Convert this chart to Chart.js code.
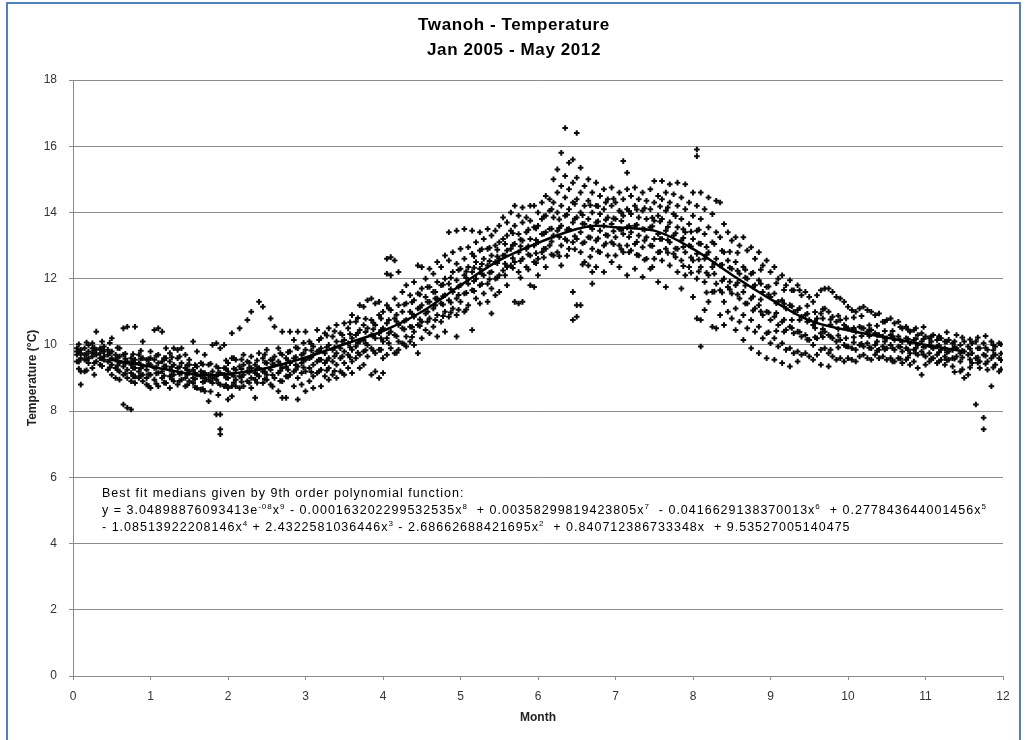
<!DOCTYPE html>
<html>
<head>
<meta charset="utf-8">
<script src="https://cdn.jsdelivr.net/npm/chart.js@4.4.0/dist/chart.umd.min.js"></script>
<style>
  html, body { margin: 0; padding: 0; background: #fff; }
  #wrap { width: 1027px; height: 740px; }
</style>
</head>
<body>
<div id="wrap"><canvas id="chart" width="1027" height="740"></canvas></div>
<script>
// month position of each column of readings
const months = [
  0.05, 0.10, 0.15, 0.20, 0.25, 0.30, 0.35, 0.40, 0.45, 0.50, 0.55, 0.60, 0.65, 0.70, 0.75, 0.80, 0.85, 0.90, 0.95, 1.00,
  1.05, 1.10, 1.15, 1.20, 1.25, 1.30, 1.35, 1.40, 1.45, 1.50, 1.55, 1.60, 1.65, 1.70, 1.75, 1.80, 1.85, 1.90, 1.95, 2.00,
  2.05, 2.10, 2.15, 2.20, 2.25, 2.30, 2.35, 2.40, 2.45, 2.50, 2.55, 2.60, 2.65, 2.70, 2.75, 2.80, 2.85, 2.90, 2.95, 3.00,
  3.05, 3.10, 3.15, 3.20, 3.25, 3.30, 3.35, 3.40, 3.45, 3.50, 3.55, 3.60, 3.65, 3.70, 3.75, 3.80, 3.85, 3.90, 3.95, 4.00,
  4.05, 4.10, 4.15, 4.20, 4.25, 4.30, 4.35, 4.40, 4.45, 4.50, 4.55, 4.60, 4.65, 4.70, 4.75, 4.80, 4.85, 4.90, 4.95, 5.00,
  5.05, 5.10, 5.15, 5.20, 5.25, 5.30, 5.35, 5.40, 5.45, 5.50, 5.55, 5.60, 5.65, 5.70, 5.75, 5.80, 5.85, 5.90, 5.95, 6.00,
  6.05, 6.10, 6.15, 6.20, 6.25, 6.30, 6.35, 6.40, 6.45, 6.50, 6.55, 6.60, 6.65, 6.70, 6.75, 6.80, 6.85, 6.90, 6.95, 7.00,
  7.05, 7.10, 7.15, 7.20, 7.25, 7.30, 7.35, 7.40, 7.45, 7.50, 7.55, 7.60, 7.65, 7.70, 7.75, 7.80, 7.85, 7.90, 7.95, 8.00,
  8.05, 8.10, 8.15, 8.20, 8.25, 8.30, 8.35, 8.40, 8.45, 8.50, 8.55, 8.60, 8.65, 8.70, 8.75, 8.80, 8.85, 8.90, 8.95, 9.00,
  9.05, 9.10, 9.15, 9.20, 9.25, 9.30, 9.35, 9.40, 9.45, 9.50, 9.55, 9.60, 9.65, 9.70, 9.75, 9.80, 9.85, 9.90, 9.95, 10.00,
  10.05, 10.10, 10.15, 10.20, 10.25, 10.30, 10.35, 10.40, 10.45, 10.50, 10.55, 10.60, 10.65, 10.70, 10.75, 10.80, 10.85, 10.90, 10.95, 11.00,
  11.05, 11.10, 11.15, 11.20, 11.25, 11.30, 11.35, 11.40, 11.45, 11.50, 11.55, 11.60, 11.65, 11.70, 11.75, 11.80, 11.85, 11.90, 11.95
];

// temperature readings (°C) in each month column
const temps = [
  // 0.05 - 1.00
  "9.7 9.9 9.5 9.8", "9.6 9.85 9.2 8.8 9.75", "9.9 9.55 9.2 9.7", "9.8 10.0 9.6 9.45", "9.65 9.9 9.3 9.75 10.05",
  "10.4 9.7 9.5 9.85", "9.6 9.9 9.75 9.4", "9.8 9.55 9.95 9.65", "9.5 9.85 9.7 9.25", "10.2 9.6 9.4 9.1 9.8",
  "9.3 9.7 9.0 9.55", "9.9 9.2 9.45 8.95 9.65", "10.5 9.35 9.1 9.7 8.2", "10.55 9.5 9.0 8.1 9.25", "9.6 9.15 8.05 8.9 9.4",
  "10.55 9.3 9.05 9.55 8.85", "9.45 9.2 9.0 9.7", "10.1 9.35 8.9 9.6 9.1", "9.55 9.25 9.0 8.8", "9.8 9.4 9.1 8.7 9.6",
  // 1.05 - 2.00
  "10.45 9.3 8.95 9.55", "10.5 9.45 9.15 8.75 9.7", "10.4 9.2 9.0 9.5", "9.9 9.35 8.85 9.6", "9.25 9.05 8.7 9.5 9.75",
  "9.9 9.4 9.1 8.9", "9.85 9.3 9.6 8.8", "9.9 9.15 9.45 8.95", "9.7 9.3 9.0 8.75", "9.55 9.2 8.9 9.4",
  "10.1 9.25 9.0 8.85", "9.8 9.1 9.35 8.7", "9.45 9.05 8.65 9.2", "9.7 9.15 8.9 9.0 8.6", "9.4 9.1 8.3 8.95",
  "10.0 9.2 9.0 8.85", "10.05 9.35 9.05 8.95 7.9", "9.9 9.15 8.8 7.45 7.3 7.9", "10.0 9.3 9.1 8.75", "9.45 9.2 8.7 8.35 9.0",
  // 2.05 - 3.00
  "10.35 9.6 9.1 8.75 8.45", "9.55 9.25 8.75 8.95", "10.5 9.35 9.05 8.7", "9.7 9.4 9.1 8.75", "10.75 9.5 9.2 8.9",
  "11.0 9.65 9.3 9.0 8.7", "9.4 9.15 8.95 8.4", "11.3 9.75 9.3 9.05", "11.15 9.6 9.2 8.85", "9.85 9.45 9.1 8.95",
  "10.8 9.55 9.25 8.8", "10.55 9.4 9.65 9.0", "9.9 9.5 9.15 8.6", "10.4 9.7 9.3 8.9 8.4", "9.6 9.35 9.05 8.4",
  "10.4 9.8 9.45 9.1", "10.15 9.6 9.2 8.75", "10.4 9.9 9.35 9.0 8.35", "9.7 9.45 9.15 8.8", "10.4 9.85 9.55 9.2 8.6",
  // 3.05 - 4.00
  "10.1 9.6 9.3 8.9", "9.95 9.7 9.4 9.05 8.7", "10.45 9.8 9.5 9.15", "10.2 9.9 9.55 9.25 8.75", "10.35 9.75 9.45 9.05",
  "10.5 10.0 9.6 9.3 8.95", "10.25 9.85 9.5 9.1", "10.6 10.1 9.75 9.4 9.0", "10.35 9.9 9.6 9.2", "10.65 10.15 9.8 9.45 9.1",
  "10.5 10.05 9.7 9.3", "10.9 10.2 9.85 9.5 9.15", "10.7 10.3 9.95 9.6", "11.2 10.45 10.1 9.7 9.3", "11.15 10.6 10.15 9.8 9.4",
  "11.35 10.5 10.0 9.65", "11.4 10.75 10.3 9.9 9.1", "11.25 10.6 10.2 9.75 9.2", "11.3 10.9 10.35 9.85 9.0", "11.0 10.5 10.1 9.6 9.15",
  // 4.05 - 5.00
  "12.6 12.15 11.2 10.65 10.2 9.7", "12.65 12.1 11.05 10.4 9.9", "12.55 11.4 10.8 10.3 9.75", "12.2 11.2 10.6 10.1 9.85", "11.6 11.0 10.5 10.05",
  "11.8 11.25 10.75 10.25 9.95", "11.5 11.0 10.55 10.1", "11.9 11.35 10.85 10.4 10.0", "12.4 11.55 11.1 10.6 9.75", "12.35 11.7 11.2 10.7 10.2",
  "12.0 11.45 10.95 10.45", "12.3 11.75 11.3 10.8 10.35", "12.15 11.6 11.1 10.55", "12.5 11.9 11.4 10.9 10.25", "12.35 11.8 11.25 10.7",
  "12.7 12.0 11.5 11.0 10.4", "13.4 12.55 11.85 11.35 10.85", "12.8 12.2 11.6 11.1", "13.45 12.45 11.95 11.4 10.9 10.25", "12.9 12.3 11.8 11.3",
  // 5.05 - 6.00
  "13.5 12.6 12.1 11.55 11.0", "12.95 12.35 11.85 11.2", "13.45 12.75 12.2 11.65 10.45", "13.1 12.5 12.0 11.4", "13.4 12.85 12.3 11.8 11.25",
  "13.2 12.6 12.1 11.55", "13.5 12.9 12.4 11.85 11.3", "13.3 12.7 12.2 11.7 10.95", "13.45 13.0 12.5 12.0 11.5", "13.6 13.1 12.6 12.1 11.6",
  "13.85 13.2 12.7 12.25", "13.7 13.3 12.85 12.35 11.8", "14.0 13.45 12.9 12.4", "14.2 13.6 13.05 12.5 11.3", "13.9 13.35 12.8 12.2 11.25",
  "14.15 13.7 13.15 12.6 11.3", "13.85 13.4 12.9 12.35", "14.2 13.75 13.2 12.7 11.8", "14.2 13.55 13.0 12.5 11.75", "14.0 13.6 13.1 12.6 12.1",
  // 6.05 - 7.00
  "14.3 13.8 13.35 12.8", "14.5 13.9 13.4 12.9 12.35", "14.4 14.05 13.5 13.0", "15.0 14.3 13.85 13.3 12.7", "15.3 14.6 14.0 13.45 12.8",
  "14.8 15.8 14.2 13.6 13.0 12.4", "16.55 15.1 14.45 13.9 13.2", "15.5 14.7 14.1 13.5 12.9", "15.6 14.9 14.3 13.7 13.1 10.75 11.6", "16.4 15.05 14.4 13.85 13.2 11.2 10.85",
  "15.35 14.6 14.0 13.4 12.8 11.2", "14.8 14.2 13.65 13.1 12.5", "15.0 14.35 13.8 13.25 12.4", "14.6 14.0 13.5 12.9 11.85 12.2", "14.9 14.2 13.7 13.15 12.35",
  "14.5 13.95 13.45 12.8", "14.7 14.1 13.6 13.0 12.2", "14.4 13.85 13.3 12.7", "14.75 14.2 13.65 13.1 12.5", "14.3 13.8 13.25 12.7",
  // 7.05 - 8.00
  "14.6 14.05 13.5 13.0 12.35", "15.55 14.4 13.9 13.35 12.8", "15.2 14.7 14.1 13.55 13.0 12.1", "14.5 13.95 13.4 12.85", "14.75 14.2 13.6 13.05 12.3",
  "14.4 13.85 13.3 12.7", "14.6 14.05 13.5 12.95 12.05", "14.35 13.8 13.25 12.6", "14.7 14.1 13.55 13.0 12.3", "14.95 14.3 13.75 13.2 12.6",
  "14.5 13.9 13.35 12.8 11.9", "14.95 14.4 13.8 13.2 12.55", "14.6 14.05 13.45 12.9 11.75", "14.85 14.3 13.7 13.1 12.4", "14.55 13.95 13.3 12.75",
  "14.9 14.2 13.55 12.9 12.2", "14.45 13.8 13.15 12.55 11.7", "14.85 14.1 13.4 12.8 12.1", "14.3 13.65 13.0 12.35", "14.6 13.9 13.2 12.55 11.45",
  // 8.05 - 9.00
  "15.9 15.7 14.2 13.45 12.75 12.0 10.8", "14.6 13.8 13.05 12.35 10.75 9.95", "14.1 13.35 12.6 11.9 11.05", "14.45 13.55 12.8 12.1 11.3", "13.95 13.1 12.35 11.6 10.55",
  "14.35 13.4 12.6 11.85 10.5", "14.3 13.25 12.4 11.65 10.9", "13.65 12.8 12.0 11.3 10.6", "13.4 12.55 11.75 11.0", "13.15 12.3 11.55 10.8",
  "13.25 12.5 11.8 11.1 10.45", "13.0 12.15 11.4 10.7", "13.25 12.35 11.6 10.9 10.15", "12.85 12.0 11.25 10.5", "12.95 12.15 11.4 10.75 9.9",
  "12.6 11.8 11.1 10.4", "12.8 11.95 11.2 10.55 9.75", "12.4 11.6 10.9 10.2", "12.55 11.75 11.0 10.35 9.6", "12.2 11.45 10.75 10.05",
  // 9.05 - 10.00
  "12.35 11.55 10.85 10.2 9.55", "12.0 11.3 10.6 9.95", "12.1 11.35 10.7 10.05 9.45", "11.8 11.1 10.45 9.85", "11.95 11.2 10.55 9.9 9.35",
  "11.65 11.0 10.35 9.75", "11.8 11.05 10.4 9.8 9.5", "11.5 10.85 10.25 9.7", "11.6 10.9 10.3 9.75", "11.45 10.75 10.15 9.65",
  "11.3 10.6 10.0 9.55", "11.5 10.8 10.2 9.7", "11.65 10.95 10.35 9.85 9.4", "11.7 11.1 10.4 9.9", "11.7 11.0 10.3 9.75 9.35",
  "11.6 10.85 10.2 9.65", "11.45 10.7 10.1 9.55", "11.4 10.75 10.15 9.6", "11.3 10.6 10.0 9.5", "11.15 10.5 9.95 9.6",
  // 10.05 - 11.00
  "11.05 10.45 9.9 9.55", "11.0 10.4 9.85 9.5", "11.1 10.55 10.0 9.65", "11.15 10.5 9.95 9.7", "11.05 10.4 10.05 9.6",
  "11.0 10.45 9.9 9.55", "10.9 10.35 10.0 9.7", "10.95 10.3 9.85 9.6", "10.7 10.25 9.95 9.65", "10.75 10.2 9.9 9.55",
  "10.8 10.3 10.0 9.6", "10.65 10.15 9.85 9.5", "10.7 10.25 9.95 9.6", "10.5 10.1 9.8 9.45", "10.55 10.2 9.9 9.55",
  "10.4 10.05 9.75 9.4", "10.45 10.15 9.85 9.5", "10.3 10.0 9.7 9.3", "10.35 10.1 9.8 9.1", "10.25 9.95 9.65 9.4",
  // 11.05 - 11.95
  "10.2 10.0 9.75 9.5", "10.3 9.9 9.6", "10.15 9.95 9.7 9.45", "10.2 9.85 9.55", "10.1 9.9 9.65 9.4",
  "10.15 9.8 9.55", "10.05 9.85 9.6 9.35", "10.3 9.9 9.65", "10.0 9.75 9.5 9.2", "10.1 9.8 9.0",
  "9.95 9.7 9.1", "10.05 9.75 9.45", "10.1 9.6 8.2", "9.9 9.5 9.3", "10.05 9.7 7.45 7.8",
  "9.85 9.5 9.25", "10.1 9.6 8.75", "9.95 9.4 9.7", "10.05 9.6 9.2"
];

// second set of columns, in between the first, covering the dense core
const monthsB = [
  0.075, 0.175, 0.275, 0.375, 0.475, 0.575, 0.675, 0.775, 0.875, 0.975,
  1.075, 1.175, 1.275, 1.375, 1.475, 1.575, 1.675, 1.775, 1.875, 1.975,
  2.075, 2.175, 2.275, 2.375, 2.475, 2.575, 2.675, 2.775, 2.875, 2.975,
  3.075, 3.175, 3.275, 3.375, 3.475, 3.575, 3.675, 3.775, 3.875, 3.975,
  4.075, 4.175, 4.275, 4.375, 4.475, 4.575, 4.675, 4.775, 4.875, 4.975,
  5.075, 5.175, 5.275, 5.375, 5.475, 5.575, 5.675, 5.775, 5.875, 5.975,
  6.075, 6.175, 6.275, 6.375, 6.475, 6.575, 6.675, 6.775, 6.875, 6.975,
  7.075, 7.175, 7.275, 7.375, 7.475, 7.575, 7.675, 7.775, 7.875, 7.975,
  8.075, 8.175, 8.275, 8.375, 8.475, 8.575, 8.675, 8.775, 8.875, 8.975,
  9.075, 9.175, 9.275, 9.375, 9.475, 9.575, 9.675, 9.775, 9.875, 9.975,
  10.075, 10.175, 10.275, 10.375, 10.475, 10.575, 10.675, 10.775, 10.875, 10.975,
  11.075, 11.175, 11.275, 11.375, 11.475, 11.575, 11.675, 11.775, 11.875, 11.975
];
const tempsB = [
  "9.77 9.49 10.02 9.28", "9.54 10.07 9.72 9.23", "9.45 9.77 9.91 9.1", "9.58 9.86 9.36 10.1", "9.74 9.32 10.06 9.53",
  "9.91 9.38 9.62 9.24", "9.73 9.44 9.13 9.58", "9.48 9.72 9.3 9.05", "9.3 9.58 9.08 9.82", "9.11 9.43 9.57 8.76",
  "9.14 9.67 9.32 8.83", "9.35 9.07 9.6 8.86", "9.63 9.1 9.34 8.96", "9.33 8.91 9.65 9.12", "9.39 9.1 8.79 9.24",
  "9.15 9.39 8.97 8.72", "9.16 8.88 9.41 8.67", "8.9 9.43 9.08 8.59", "8.84 9.16 9.3 8.49", "9.01 9.29 8.79 9.53",
  "9.28 8.86 9.6 9.07", "9.56 9.03 9.27 8.89", "9.46 9.17 8.86 9.31", "9.29 9.53 9.11 8.86", "9.19 9.47 8.97 9.71",
  "9.09 9.41 9.55 8.74", "9.22 9.75 9.4 8.91", "9.53 9.25 9.78 9.04", "9.92 9.39 9.63 9.25", "9.74 9.32 10.06 9.53",
  "10.03 9.63 9.18 9.83", "9.8 10.15 9.55 9.2", "9.93 9.53 10.28 9.23", "9.66 10.41 9.91 9.21", "9.65 10.1 10.3 9.15",
  "9.93 10.33 9.63 10.68", "10.36 9.76 10.81 10.06", "10.79 10.04 10.39 9.84", "10.67 10.27 9.82 10.47", "10.45 10.8 10.2 9.85",
  "10.35 10.75 10.05 11.1", "10.26 10.71 10.91 9.76", "10.47 11.22 10.72 10.02", "10.94 10.54 11.29 10.24", "11.52 10.77 11.12 10.57",
  "11.3 10.7 11.75 11.0", "11.6 11.2 10.75 11.4", "11.47 11.82 11.22 10.87", "11.68 11.28 12.03 10.98", "11.51 12.26 11.76 11.06",
  "11.57 12.02 12.22 11.07", "11.93 12.33 11.63 12.68", "12.44 11.84 12.89 12.14", "12.93 12.18 12.53 11.98", "12.87 12.47 12.02 12.67",
  "12.7 13.05 12.45 12.1", "12.62 13.02 12.32 13.37", "12.53 12.98 13.18 12.03", "12.73 13.48 12.98 12.28", "13.17 12.77 13.52 12.47",
  "13.88 12.9 13.36 12.64", "13.51 12.73 14.1 13.12", "13.79 13.26 12.68 13.53", "13.48 13.93 13.15 12.69", "13.28 13.81 12.89 14.26",
  "13.07 13.66 13.92 12.43", "13.24 14.22 13.57 12.66", "13.73 13.21 14.19 12.82", "14.3 13.32 13.78 13.06", "13.82 13.04 14.41 13.43",
  "14.0 13.47 12.89 13.74", "13.59 14.04 13.26 12.8", "13.63 13.11 14.09 12.72", "13.15 14.13 13.48 12.57", "12.99 13.58 13.84 12.35",
  "13.2 13.73 12.81 14.18", "13.56 12.78 14.15 13.17", "13.89 12.91 13.37 12.65", "13.49 12.96 12.38 13.23", "12.97 13.42 12.64 12.18",
  "12.58 13.06 12.22 13.48", "12.18 12.72 12.96 11.58", "12.15 13.05 12.45 11.61", "12.42 11.94 12.84 11.58", "12.81 11.91 12.33 11.67",
  "12.24 11.52 12.78 11.88", "12.27 11.79 11.25 12.03", "11.76 12.18 11.46 11.04", "11.37 11.85 11.01 12.27", "10.98 11.52 11.76 10.38",
  "10.96 11.86 11.26 10.42", "11.24 10.76 11.66 10.4", "11.65 10.75 11.17 10.51", "11.11 10.39 11.65 10.75", "11.18 10.7 10.16 10.94",
  "10.71 10.99 10.51 10.23", "10.48 10.8 10.24 11.08", "10.25 10.61 10.77 9.85", "10.28 10.88 10.48 9.92", "10.52 10.2 10.8 9.96",
  "10.83 10.23 10.51 10.07", "10.51 10.03 10.87 10.27", "10.59 10.27 9.91 10.43", "10.3 10.58 10.1 9.82", "10.1 10.42 9.86 10.7",
  "9.9 10.26 10.42 9.5", "9.94 10.54 10.14 9.58", "10.18 9.86 10.46 9.62", "10.5 9.9 10.18 9.74", "10.18 9.7 10.54 9.94",
  "10.26 9.94 9.58 10.1", "9.98 10.26 9.78 9.5", "9.78 10.1 9.54 10.38", "9.58 9.94 10.1 9.18", "9.62 10.22 9.82 9.26",
  "9.88 9.56 10.16 9.32", "10.22 9.62 9.9 9.46", "9.91 9.43 10.27 9.67", "10.0 9.68 9.32 9.84", "9.74 10.02 9.54 9.26"
];

// best fit medians curve
const fitMonths = [0.5, 1.0, 1.5, 1.75, 2.0, 2.5, 3.0, 3.5, 4.0, 4.5, 5.0, 5.5, 6.0, 6.5, 6.75, 7.0, 7.5, 8.0, 8.5, 9.0, 9.5, 10.0, 10.5, 11.0, 11.5];
const fitTemps = [9.55, 9.35, 9.13, 9.08, 9.12, 9.3, 9.62, 10.02, 10.42, 11.0, 11.8, 12.55, 13.08, 13.5, 13.6, 13.55, 13.45, 12.9, 12.12, 11.38, 10.74, 10.44, 10.22, 10.0, 9.8];

const xTickValues = [0, 1, 2, 3, 4, 5, 6, 7, 8, 9, 10, 11, 12];
const yTickValues = [0, 2, 4, 6, 8, 10, 12, 14, 16, 18];

const titleLines = ['Twanoh - Temperature', 'Jan 2005 - May 2012'];
// ^...^ marks superscript pieces
const noteLines = [
  'Best fit medians given by 9th order polynomial function:',
  'y = 3.04898876093413e^-08^x^9^ - 0.000163202299532535x^8^  + 0.00358299819423805x^7^  - 0.0416629138370013x^6^  + 0.277843644001456x^5^',
  '- 1.08513922208146x^4^ + 2.4322581036446x^3^ - 2.68662688421695x^2^  + 0.840712386733348x  + 9.53527005140475'
];

const FONT = "'Liberation Sans', Arial, sans-serif";
const GRID = '#8c8c8c';

function toPoints(xs, cols) {
  const pts = [];
  const n = Math.min(xs.length, cols.length);
  for (let i = 0; i < n; i++) {
    cols[i].split(' ').forEach(t => pts.push({ x: xs[i], y: Number(t) }));
  }
  return pts;
}
const readings = toPoints(months, temps).concat(toPoints(monthsB, tempsB));
const fitPoints = fitMonths.map((m, i) => ({ x: m, y: fitTemps[i] }));

const framePlugin = {
  id: 'frame',
  beforeDraw(chart) {
    const ctx = chart.ctx;
    ctx.save();
    ctx.fillStyle = '#fff';
    ctx.fillRect(0, 0, chart.width, chart.height);
    ctx.strokeStyle = '#4f81bd';
    ctx.lineWidth = 2;
    ctx.strokeRect(7, 3, 1013, 800);
    ctx.restore();
  },
  afterDraw(chart) {
    const ctx = chart.ctx;
    ctx.save();
    ctx.fillStyle = '#000';
    ctx.textAlign = 'center';
    ctx.textBaseline = 'alphabetic';
    ctx.font = 'bold 17px ' + FONT;
    ctx.letterSpacing = '0.6px';
    ctx.fillText(titleLines[0], 514, 30);
    ctx.fillText(titleLines[1], 514, 55);

    // equation note
    ctx.textAlign = 'left';
    ctx.letterSpacing = '1px';
    const baselines = [497, 514, 531];
    noteLines.forEach((line, li) => {
      let x = 102;
      line.split('^').forEach((part, pi) => {
        if (pi % 2 === 1) {
          ctx.font = '8px ' + FONT;
          ctx.fillText(part, x, baselines[li] - 5);
        } else {
          ctx.font = '12.5px ' + FONT;
          ctx.fillText(part, x, baselines[li]);
        }
        x += ctx.measureText(part).width;
      });
    });
    ctx.restore();
  }
};

new Chart(document.getElementById('chart'), {
  type: 'scatter',
  data: {
    datasets: [
      {
        label: 'Best fit medians',
        data: fitPoints,
        showLine: true,
        pointRadius: 0,
        borderColor: '#000',
        borderWidth: 2.5,
        cubicInterpolationMode: 'monotone'
      },
      {
        label: 'Temperature',
        data: readings,
        pointStyle: 'cross',
        pointRadius: 2.8,
        borderWidth: 2,
        borderColor: '#0a0a0a',
        backgroundColor: '#0a0a0a'
      }
    ]
  },
  options: {
    responsive: false,
    animation: false,
    devicePixelRatio: 1,
    layout: { padding: { left: 21, right: 24, top: 80, bottom: 11.4 } },
    plugins: {
      legend: { display: false },
      tooltip: { enabled: false }
    },
    scales: {
      x: {
        type: 'linear',
        min: 0,
        max: 12,
        afterBuildTicks: s => { s.ticks = xTickValues.map(v => ({ value: v })); },
        afterFit: s => { s.height = 52.6; },
        ticks: { color: '#333', font: { size: 12, family: FONT }, padding: 9, maxRotation: 0 },
        grid: { drawOnChartArea: false, drawTicks: true, tickLength: 4, color: GRID },
        border: { color: GRID, width: 1 },
        title: { display: true, text: 'Month', color: '#222', font: { size: 12, weight: 'bold', family: FONT }, padding: { top: 4, bottom: 4 } }
      },
      y: {
        min: 0,
        max: 18,
        afterBuildTicks: s => { s.ticks = yTickValues.map(v => ({ value: v })); },
        afterFit: s => { s.width = 52; },
        ticks: { color: '#333', font: { size: 12, family: FONT }, padding: 12 },
        grid: { color: GRID, tickLength: 4 },
        border: { color: GRID, width: 1 },
        title: { display: true, text: 'Temperature (°C)', color: '#222', font: { size: 12, weight: 'bold', family: FONT }, padding: { top: 4, bottom: 4 } }
      }
    }
  },
  plugins: [framePlugin]
});
</script>
</body>
</html>
